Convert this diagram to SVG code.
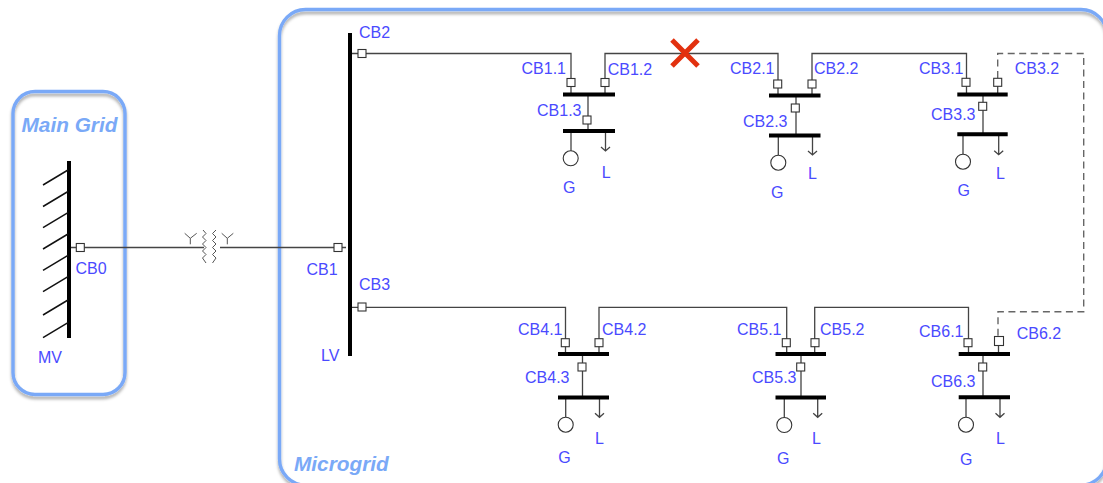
<svg xmlns="http://www.w3.org/2000/svg" width="1103" height="483" viewBox="0 0 1103 483">
<style>
text{font-family:"Liberation Sans",Arial,sans-serif;font-size:16px;fill:#4a4aff}
text.area{font-size:20.8px;font-weight:bold;font-style:italic;fill:#7aa9f7}
.box{fill:none;stroke:#7aa9f7;stroke-width:3.4}
.w{fill:none;stroke:#444;stroke-width:1.3}
.d{fill:none;stroke:#666;stroke-width:1.4;stroke-dasharray:7 4.5}
.bus{stroke:#000;stroke-width:4;fill:none}
.h{stroke:#111;stroke-width:1.5;fill:none}
.cb{fill:#fff;stroke:#333;stroke-width:1.1}
.g{fill:#fff;stroke:#333;stroke-width:1.1}
.z{fill:none;stroke:#555;stroke-width:1}
.x{stroke:#e2310f;stroke-width:5;fill:none}
</style>
<defs>
<filter id="sh" x="-10%" y="-10%" width="120%" height="120%"><feDropShadow dx="0" dy="3" stdDeviation="1.6" flood-color="#000" flood-opacity="0.32"/></filter>
<rect id="s" x="-4" y="-4" width="8" height="8" class="cb"/>
</defs>

<g id="area-microgrid">
<rect class="box" x="279.500" y="9.500" width="827.500" height="475.500" rx="26" filter="url(#sh)"/>
<text class="area" x="294" y="471.300">Microgrid</text>
</g>
<g id="area-main-grid">
<rect class="box" x="13" y="91.500" width="112" height="303" rx="22" filter="url(#sh)"/>
<text class="area" x="21.500" y="131.500">Main Grid</text>
</g>

<g id="connectors">
<path class="w" d="M71 247.500H204M220 247.500H346"/>
<path class="w" d="M352 53.500H571V94"/>
<path class="w" d="M605 94V53.500H778V95"/>
<path class="w" d="M812 95V53.500H966.500V94"/>
<path class="w" d="M352 307.300H565.500V354"/>
<path class="w" d="M599 354V307.300H786.700V354"/>
<path class="w" d="M814.700 354V307.300H968.500V354"/>
<path class="d" d="M997.700 78V53.500H1083.700V311.700H998V336"/>
<path class="w" d="M997.700 94V86M998.500 354V346"/>
</g>

<g id="cross"><path class="x" d="M672 40L698 66M698 40L672 66"/></g>

<g id="bus-mv">
<path class="bus" d="M69 161V338"/>
<path class="h" d="M68 170L43 185M68 191.500L43 206.500M68 212.700L43 227.700M68 234L43 249M68 255.300L43 270.300M68 276.700L43 291.700M68 300L43 315M68 322.700L43 337.700"/>
<text x="38" y="362.500">MV</text>
</g>
<g id="cb0"><use href="#s" x="80.300" y="247.500"/><text x="75.500" y="274">CB0</text></g>

<g id="transformer">
<path class="z" d="M203 230L206 233.500L202.500 237L206 240.500L202.500 244L206 247.500L202.500 251L206 254.500L202.500 258L206 263"/>
<path class="z" d="M216 230L212.500 233.500L216 237L212.500 240.500L216 244L212.500 247.500L216 251L212.500 254.500L216 258L212.500 263"/>
<path class="z" d="M184.700 233.300L190.300 238.300L196.700 233.300M190.300 238.300V244.300M221.700 233.300L227.300 238.300L233.300 233.300M227.300 238.300V244.300"/>
</g>

<g id="bus-lv">
<path class="bus" d="M350 33V356"/>
<text x="321" y="361">LV</text>
</g>
<g id="cb1"><use href="#s" x="338" y="247.500"/><text x="306.500" y="275">CB1</text></g>
<g id="cb2"><use href="#s" x="362" y="53.500"/><text x="359" y="38">CB2</text></g>
<g id="cb3"><use href="#s" x="362" y="307"/><text x="359" y="290">CB3</text></g>

<g id="node-1">
<path class="w" d="M588 94V131M571 131V151M605.500 131V151M601 147L605.500 151L610 147"/>
<path class="bus" d="M563 94.500H615M563 131H615"/>
<use href="#s" x="571" y="82.500"/><use href="#s" x="605" y="82.500"/><use href="#s" x="587" y="120"/>
<circle class="g" cx="570.700" cy="158.300" r="7.500"/>
<text x="521.500" y="74">CB1.1</text><text x="607.700" y="75">CB1.2</text><text x="537" y="115.700">CB1.3</text>
<text x="563" y="193">G</text><text x="601.700" y="177.700">L</text>
</g>
<g id="node-2">
<path class="w" d="M796 96V135.500M778.300 135.500V155M812.500 135.500V155M808 151L812.500 155L817 151"/>
<path class="bus" d="M769 95.500H820.500M769 135.500H820.500"/>
<use href="#s" x="777.700" y="84"/><use href="#s" x="812" y="84"/><use href="#s" x="795.300" y="108"/>
<circle class="g" cx="778.300" cy="162.700" r="7.500"/>
<text x="730" y="74">CB2.1</text><text x="814" y="74">CB2.2</text><text x="743" y="126.700">CB2.3</text>
<text x="771" y="197.700">G</text><text x="808" y="179">L</text>
</g>
<g id="node-3">
<path class="w" d="M983 94.500V134.300M963 134.300V154M998.700 134.300V154.700M994.200 150.700L998.700 154.700L1003.200 150.700"/>
<path class="bus" d="M957.300 94.500H1007.700M957.300 134.300H1007.700"/>
<use href="#s" x="966" y="82.300"/><use href="#s" x="997.700" y="82.300"/><use href="#s" x="982.700" y="106.300"/>
<circle class="g" cx="963" cy="161.700" r="7.500"/>
<text x="919" y="74">CB3.1</text><text x="1014.700" y="74">CB3.2</text><text x="931" y="120">CB3.3</text>
<text x="957.500" y="195.700">G</text><text x="996" y="179">L</text>
</g>
<g id="node-4">
<path class="w" d="M582.500 354V397.500M565.700 397.500V417M599.500 397.500V417.300M595 413.300L599.500 417.300L604 413.300"/>
<path class="bus" d="M558 354H609M558 397.500H609"/>
<use href="#s" x="565.300" y="342.700"/><use href="#s" x="599" y="342.700"/><use href="#s" x="582" y="367"/>
<circle class="g" cx="565.700" cy="424.700" r="7.500"/>
<text x="518" y="335">CB4.1</text><text x="602" y="335">CB4.2</text><text x="525" y="383">CB4.3</text>
<text x="558.300" y="463">G</text><text x="595" y="444">L</text>
</g>
<g id="node-5">
<path class="w" d="M801 354V397.500M784.300 397.500V417M817.700 397.500V417.300M813.200 413.300L817.700 417.300L822.200 413.300"/>
<path class="bus" d="M775.500 354H826M775.500 397.500H826"/>
<use href="#s" x="786.300" y="342.700"/><use href="#s" x="815" y="342.700"/><use href="#s" x="800.700" y="367"/>
<circle class="g" cx="784.300" cy="425" r="7.500"/>
<text x="737" y="335">CB5.1</text><text x="820" y="335">CB5.2</text><text x="752" y="383">CB5.3</text>
<text x="777" y="464">G</text><text x="812" y="444">L</text>
</g>
<g id="node-6">
<path class="w" d="M983 354V397.300M966 397.300V417M1000 397.300V417.300M995.500 413.300L1000 417.300L1004.500 413.300"/>
<path class="bus" d="M958.700 354H1010M958.700 397.300H1010"/>
<use href="#s" x="968" y="342.700"/><rect class="cb" x="994.500" y="336.500" width="9" height="9"/><use href="#s" x="982.700" y="367"/>
<circle class="g" cx="966" cy="424.700" r="7.500"/>
<text x="919" y="337.300">CB6.1</text><text x="1016.700" y="339.300">CB6.2</text><text x="931" y="387.300">CB6.3</text>
<text x="960" y="465">G</text><text x="996" y="444">L</text>
</g>
</svg>
